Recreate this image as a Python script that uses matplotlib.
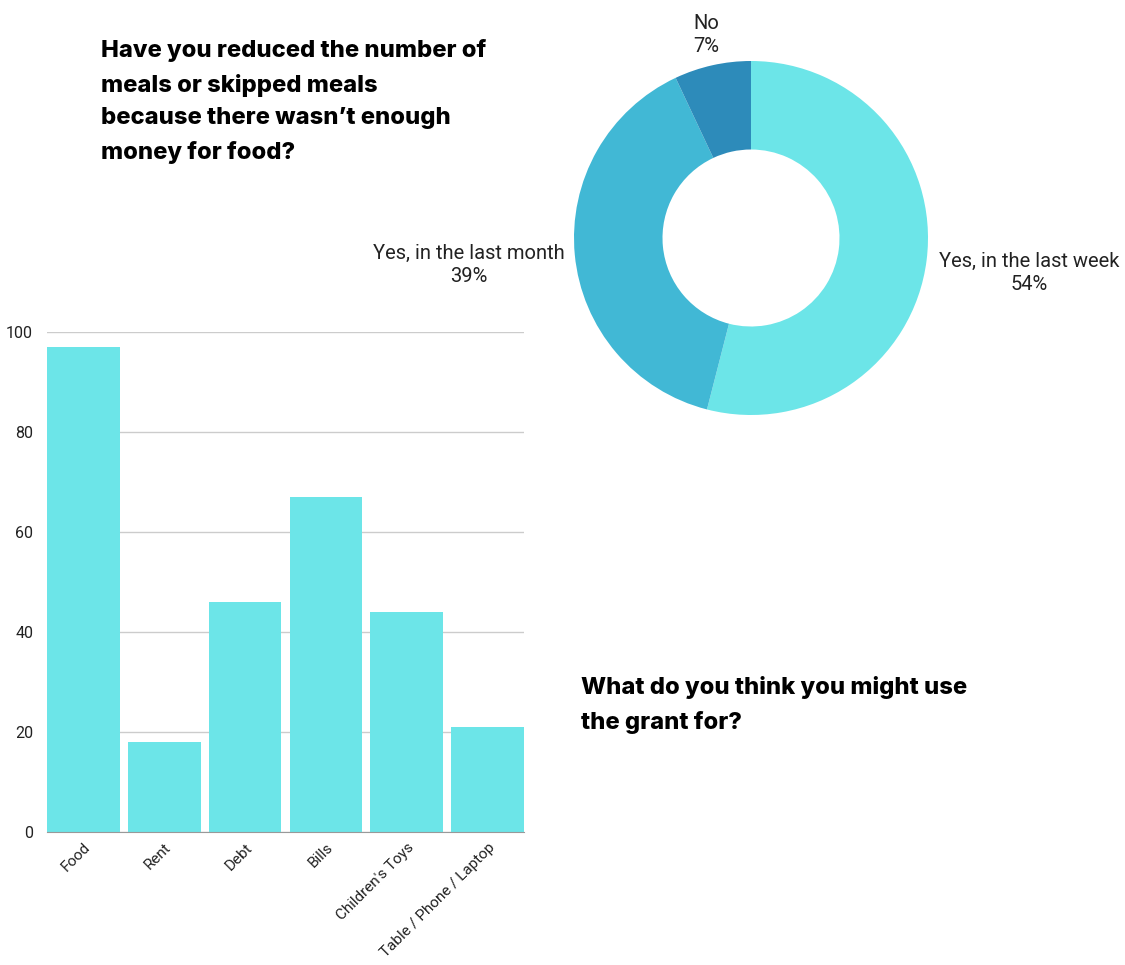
import matplotlib
matplotlib.use("Agg")
import matplotlib.pyplot as plt

# Bar chart data: intended uses of the grant
categories = ["Food", "Rent", "Debt", "Bills", "Children's Toys", "Table / Phone / Laptop"]
counts = [97, 18, 46, 67, 44, 21]
y_ticks = [0, 20, 40, 60, 80, 100]

# Donut chart data: reduced or skipped meals
meal_labels = ["Yes, in the last week", "Yes, in the last month", "No"]
meal_shares = [54, 39, 7]
meal_colors = ["#6ce5e8", "#41b8d5", "#2d8bba"]

BAR_COLOR = "#6ce5e8"
TEXT_COLOR = "#222222"
LABEL_FONT = ["Roboto", "DejaVu Sans"]
TITLE_FONT = ["Inter", "DejaVu Sans"]

W, H = 1125, 965
fig = plt.figure(figsize=(W / 100, H / 100), dpi=100)


def px_axes(x0, y0, x1, y1):
    """Create axes from pixel box (left, top, right, bottom)."""
    return fig.add_axes([x0 / W, 1 - y1 / H, (x1 - x0) / W, (y1 - y0) / H])


# ---- Bar chart ----
ax = px_axes(47, 332, 524, 832)
x = list(range(len(categories)))
ax.bar(x, counts, width=0.9, color=BAR_COLOR, zorder=3)
ax.set_xlim(-0.45, len(categories) - 0.55)
ax.set_ylim(0, 100)
ax.set_yticks(y_ticks)
ax.set_yticklabels([str(t) for t in y_ticks], family=LABEL_FONT, fontsize=11.5, color=TEXT_COLOR)
ax.set_xticks(x)
ax.set_xticklabels(categories, rotation=45, ha="right", rotation_mode="anchor",
                   family=LABEL_FONT, fontsize=11, color=TEXT_COLOR)
ax.tick_params(axis="both", length=0)
ax.tick_params(axis="y", pad=10)
ax.tick_params(axis="x", pad=6)
ax.yaxis.grid(True, color="#cccccc", linewidth=1, zorder=0)
for side in ["top", "right", "left"]:
    ax.spines[side].set_visible(False)
ax.spines["bottom"].set_color("#999999")
ax.spines["bottom"].set_zorder(4)

# ---- Donut chart ----
cx, cy, r = 751, 238, 177
dax = px_axes(cx - r, cy - r, cx + r, cy + r)
dax.pie(meal_shares, colors=meal_colors, startangle=90, counterclock=False,
        wedgeprops=dict(width=0.5, linewidth=0))
dax.set_xlim(-1, 1)
dax.set_ylim(-1, 1)
dax.set_aspect("equal")
dax.axis("off")

label_pos = {
    "Yes, in the last week": (1029, 273),
    "Yes, in the last month": (469, 265),
    "No": (706, 35),
}
for lab, share in zip(meal_labels, meal_shares):
    px, py = label_pos[lab]
    fig.text(px / W, 1 - py / H, f"{lab}\n{share}%", ha="center", va="center",
             family=LABEL_FONT, fontsize=14.5, color=TEXT_COLOR, linespacing=1.3)

# ---- Titles ----
fig.text(101 / W, 1 - 39 / H,
         "Have you reduced the number of\nmeals or skipped meals\nbecause there wasn\u2019t enough\nmoney for food?",
         ha="left", va="top", family=TITLE_FONT, fontweight="heavy", fontsize=17.1,
         color="#000000", linespacing=1.64)
fig.text(581 / W, 1 - 676 / H,
         "What do you think you might use\nthe grant for?",
         ha="left", va="top", family=TITLE_FONT, fontweight="heavy", fontsize=17.1,
         color="#000000", linespacing=1.64)

fig.savefig("out.png", dpi=100, facecolor="white")
